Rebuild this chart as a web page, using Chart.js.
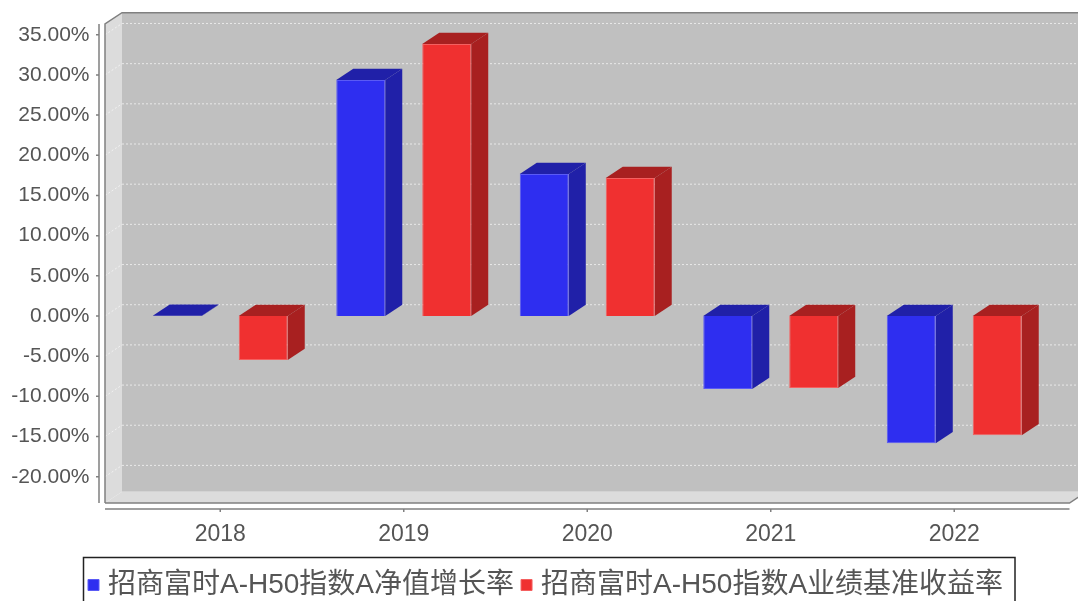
<!DOCTYPE html>
<html>
<head>
<meta charset="utf-8">
<script src="https://cdn.jsdelivr.net/npm/chart.js@4"></script>
<style>
  html, body { margin: 0; padding: 0; background: #fff; overflow: hidden; }
  canvas { display: block; }
</style>
</head>
<body>
<canvas id="fundChart" width="1078" height="601"></canvas>
<script>
const categories = ['2018', '2019', '2020', '2021', '2022'];
const navLabel = '招商富时A-H50指数A净值增长率';
const benchLabel = '招商富时A-H50指数A业绩基准收益率';
const navGrowth = [0.03, 29.37, 17.67, -9.08, -15.84];
const benchReturn = [-5.48, 33.85, 17.17, -8.96, -14.85];
const yTicks = [35, 30, 25, 20, 15, 10, 5, 0, -5, -10, -15, -20];

// 3D effect: depth of the box, like the old JFreeChart look
const depthX = 17;
const depthY = 11.3;
const marginX = 23.5;
const plotTop = 24;
const axisColor = '#808080';
const textColor = '#555555';
const sideColors = ['#2020a8', '#a82020'];

function poly(ctx, pts, fill, stroke) {
  ctx.beginPath();
  pts.forEach((p, i) => i ? ctx.lineTo(p[0], p[1]) : ctx.moveTo(p[0], p[1]));
  ctx.closePath();
  if (fill) { ctx.fillStyle = fill; ctx.fill(); }
  if (stroke) { ctx.strokeStyle = stroke; ctx.stroke(); }
}

const box3d = {
  id: 'box3d',
  afterLayout(chart) {
    // legend goes where the reference has it
    const lg = chart.legend;
    lg.left = 81;
    lg.right = 1040;
    lg.top = 559;
    lg.bottom = 601;
    // pin the top of the plot, the auto layout leaves too much room there
    const y = chart.scales.y;
    chart.chartArea.top = plotTop;
    chart.chartArea.height = chart.chartArea.bottom - plotTop;
    y.top = plotTop;
    y.height = y.bottom - plotTop;
    y.configure();
  },
  beforeDatasetsDraw(chart) {
    const { ctx, chartArea: a, scales } = chart;
    const left = a.left - marginX;
    const right = a.right + marginX;
    ctx.save();
    ctx.lineWidth = 1;

    // walls
    poly(ctx, [[left + depthX, a.top - depthY], [right + depthX, a.top - depthY], [right + depthX, a.bottom - depthY], [left + depthX, a.bottom - depthY]], '#c0c0c0');
    poly(ctx, [[left, a.top], [left + depthX, a.top - depthY], [left + depthX, a.bottom - depthY], [left, a.bottom]], '#dcdcdc');
    poly(ctx, [[left, a.bottom], [left + depthX, a.bottom - depthY], [right + depthX, a.bottom - depthY], [right, a.bottom]], '#dcdcdc');

    // grid on the back wall and the left wall
    ctx.setLineDash([2, 2]);
    yTicks.forEach(v => {
      const y = scales.y.getPixelForValue(v);
      ctx.strokeStyle = 'rgba(255,255,255,0.6)';
      ctx.beginPath();
      ctx.moveTo(left, y);
      ctx.lineTo(left + depthX, y - depthY);
      ctx.stroke();
      ctx.strokeStyle = '#e8e8e8';
      ctx.beginPath();
      ctx.moveTo(left + depthX, y - depthY);
      ctx.lineTo(right + depthX, y - depthY);
      ctx.stroke();
    });
    ctx.setLineDash([]);

    // box outline
    ctx.strokeStyle = axisColor;
    ctx.lineWidth = 1.5;
    ctx.beginPath();
    ctx.moveTo(left, a.bottom);
    ctx.lineTo(left, a.top);
    ctx.lineTo(left + depthX, a.top - depthY);
    ctx.lineTo(right + depthX, a.top - depthY);
    ctx.moveTo(left, a.bottom);
    ctx.lineTo(right, a.bottom);
    ctx.lineTo(right + depthX, a.bottom - depthY);
    ctx.stroke();

    // side and top faces of every bar
    ctx.lineWidth = 1;
    chart.data.datasets.forEach((ds, i) => {
      chart.getDatasetMeta(i).data.forEach(bar => {
        const x0 = bar.x - bar.width / 2;
        const x1 = bar.x + bar.width / 2;
        const top = Math.min(bar.y, bar.base);
        const bottom = Math.max(bar.y, bar.base);
        poly(ctx, [[x1, top], [x1 + depthX, top - depthY], [x1 + depthX, bottom - depthY], [x1, bottom]], sideColors[i]);
        poly(ctx, [[x0, top], [x0 + depthX, top - depthY], [x1 + depthX, top - depthY], [x1, top]], sideColors[i]);
      });
    });
    ctx.restore();
  },
  afterDraw(chart) {
    const { ctx, chartArea: a, scales } = chart;
    const left = a.left - marginX;
    const right = a.right + marginX;
    ctx.save();
    ctx.strokeStyle = axisColor;
    ctx.lineWidth = 1.5;

    // y axis stands off from the box
    ctx.beginPath();
    ctx.moveTo(99, a.top);
    ctx.lineTo(99, a.bottom);
    yTicks.forEach(v => {
      const y = scales.y.getPixelForValue(v);
      ctx.moveTo(96, y);
      ctx.lineTo(99, y);
    });
    // x axis too
    ctx.moveTo(left, a.bottom + 6);
    ctx.lineTo(right, a.bottom + 6);
    categories.forEach((c, i) => {
      const x = scales.x.getPixelForTick(i);
      ctx.moveTo(x, a.bottom + 6);
      ctx.lineTo(x, a.bottom + 9);
    });
    ctx.stroke();

    // legend frame, bottom edge falls off the picture
    ctx.strokeStyle = '#222222';
    ctx.lineWidth = 1.5;
    ctx.strokeRect(83.5, 557.5, 931.5, 60);
    ctx.restore();
  }
};

new Chart(document.getElementById('fundChart'), {
  type: 'bar',
  data: {
    labels: categories,
    datasets: [
      { label: navLabel, data: navGrowth, backgroundColor: '#2e2ef0', borderColor: '#5a5af5', borderWidth: 1 },
      { label: benchLabel, data: benchReturn, backgroundColor: '#f03030', borderColor: '#f46060', borderWidth: 1 }
    ]
  },
  options: {
    responsive: false,
    animation: false,
    devicePixelRatio: 1,
    categoryPercentage: 0.937,
    barPercentage: 0.57,
    layout: { padding: { top: 0, right: 32, left: 0, bottom: 0 }, autoPadding: false },
    plugins: {
      tooltip: { enabled: false },
      legend: {
        position: 'bottom',
        align: 'start',
        labels: {
          usePointStyle: true,
          pointStyle: 'rect',
          boxWidth: 1,
          boxHeight: 11,
          padding: 12,
          color: textColor,
          font: { family: '"Liberation Sans", "Noto Sans CJK SC"', size: 28 }
        }
      }
    },
    scales: {
      x: {
        afterFit(scale) { scale.height = 98 - scale.chart.legend.height; },
        grid: { display: false },
        border: { display: false },
        ticks: { color: textColor, padding: 10, font: { family: '"Liberation Sans"', size: 23 } }
      },
      y: {
        min: -23.27,
        max: 36.34,
        afterFit(scale) { scale.width = 128.5; },
        afterBuildTicks(scale) { scale.ticks = yTicks.map(v => ({ value: v })); },
        grid: { display: false },
        border: { display: false },
        ticks: {
          color: textColor,
          padding: 31,
          font: { family: '"Liberation Sans"', size: 21 },
          callback: v => v.toFixed(2) + '%'
        }
      }
    }
  },
  plugins: [box3d]
});
</script>
</body>
</html>
